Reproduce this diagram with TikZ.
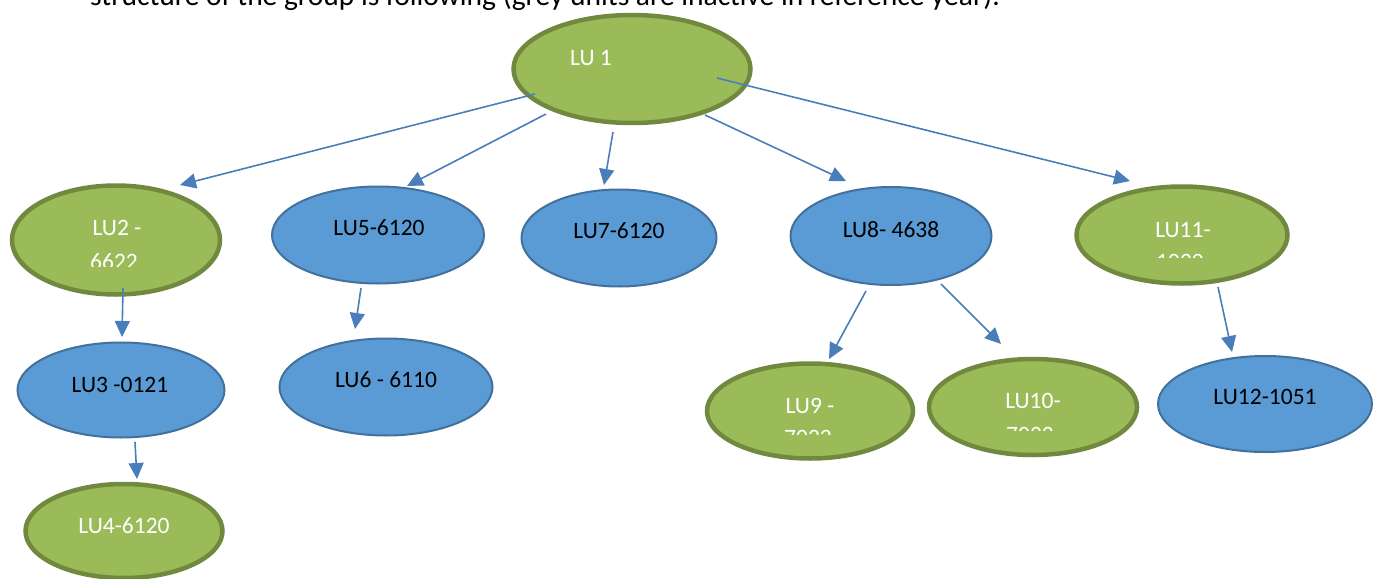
\documentclass[tikz,border=0pt]{standalone}
\usepackage{fontspec}
\setmainfont{Carlito}
\usetikzlibrary{shapes.geometric,arrows.meta}
\definecolor{gfill}{HTML}{9BBB59}
\definecolor{gline}{HTML}{71893F}
\definecolor{bfill}{HTML}{5B9BD5}
\definecolor{bline}{HTML}{41719C}
\definecolor{arr}{HTML}{4A7EBB}
\tikzset{
  green/.style={ellipse,fill=gfill,draw=gline,line width=4.5pt,inner sep=0pt},
  blue/.style={ellipse,fill=bfill,draw=bline,line width=2pt,inner sep=0pt},
  wtxt/.style={anchor=base,text=white,inner sep=0pt,font=\fontsize{23.5}{28}\selectfont},
  btxt/.style={anchor=base,text=black,inner sep=0pt,font=\fontsize{23.5}{28}\selectfont},
  conn/.style={draw=arr,line width=1.6pt,-{Triangle[length=16pt,width=15pt]}},
}
\begin{document}
\begin{tikzpicture}[x=1pt,y=-1pt]
\useasboundingbox (0,0) rectangle (1378,578);
\clip (0,0) rectangle (1378,578);
\node[anchor=base west,inner sep=0pt,font=\fontsize{29.5}{34}\selectfont] (title) at (90,6) {structure of the group is following (grey units are inactive in reference year).};
% ellipses
\node[green,minimum width=237pt,minimum height=108pt] (lu1) at (632,69) {};
\node[green,minimum width=208pt,minimum height=109pt] (lu2) at (116,240) {};
\node[blue,minimum width=212pt,minimum height=97pt] (lu5) at (378,235) {};
\node[blue,minimum width=195pt,minimum height=97pt] (lu7) at (619,238) {};
\node[blue,minimum width=201pt,minimum height=98pt] (lu8) at (891,236) {};
\node[green,minimum width=211pt,minimum height=97pt] (lu11) at (1182,235) {};
\node[blue,minimum width=207pt,minimum height=95pt] (lu3) at (121,390) {};
\node[green,minimum width=197pt,minimum height=94pt] (lu4) at (124,531) {};
\node[blue,minimum width=213pt,minimum height=97pt] (lu6) at (386,387) {};
\node[green,minimum width=206pt,minimum height=95pt] (lu9) at (810,411) {};
\node[green,minimum width=208pt,minimum height=96pt] (lu10) at (1033,407) {};
\node[blue,minimum width=214pt,minimum height=96pt] (lu12) at (1265,404) {};
% labels
\node[wtxt] (t1) at (591,66) {LU 1};
\node[wtxt] (t2) at (117,235) {LU2 -};
\begin{scope}\clip (0,0) rectangle (1378,266);
\node[wtxt] (t2b) at (114,269) {6622};\end{scope}
\node[btxt] (t5) at (379,235) {LU5-6120};
\node[btxt] (t7) at (619,238) {LU7-6120};
\node[btxt] (t8) at (891,237) {LU8- 4638};
\node[wtxt] (t11) at (1183,237) {LU11-};
\begin{scope}\clip (0,0) rectangle (1378,257);
\node[wtxt] (t11b) at (1180,269) {1020};\end{scope}
\node[btxt] (t3) at (120,392) {LU3 -0121};
\node[wtxt] (t4) at (124,533) {LU4-6120};
\node[btxt] (t6) at (386,387) {LU6 - 6110};
\node[wtxt] (t9) at (810,413) {LU9 -};
\begin{scope}\clip (0,0) rectangle (1378,434);
\node[wtxt] (t9b) at (808,445) {7022};\end{scope}
\node[wtxt] (t10) at (1033,408) {LU10-};
\begin{scope}\clip (0,0) rectangle (1378,430);
\node[wtxt] (t10b) at (1030,442) {7022};\end{scope}
\node[btxt] (t12) at (1265,404) {LU12-1051};
% connectors
\draw[conn] ([shift={(-97,25)}]lu1.center) -- ([shift={(64,-55)}]lu2.center);
\draw[conn] ([shift={(-86,45)}]lu1.center) -- ([shift={(29,-49)}]lu5.center);
\draw[conn] ([shift={(-19,63)}]lu1.center) -- ([shift={(-15,-53)}]lu7.center);
\draw[conn] ([shift={(73,46)}]lu1.center) -- ([shift={(-45,-55)}]lu8.center);
\draw[conn] ([shift={(85,9)}]lu1.center) -- ([shift={(-52,-54)}]lu11.center);
\draw[conn] ([shift={(7,48)}]lu2.center) -- ([shift={(1,-53)}]lu3.center);
\draw[conn] ([shift={(-17,53)}]lu5.center) -- ([shift={(-31,-58)}]lu6.center);
\draw[conn] ([shift={(14,52)}]lu3.center) -- ([shift={(13,-52)}]lu4.center);
\draw[conn] ([shift={(-25,55)}]lu8.center) -- ([shift={(19,-52)}]lu9.center);
\draw[conn] ([shift={(50,48)}]lu8.center) -- ([shift={(-32,-63)}]lu10.center);
\draw[conn] ([shift={(36,52)}]lu11.center) -- ([shift={(-33,-52)}]lu12.center);
\end{tikzpicture}
\end{document}
